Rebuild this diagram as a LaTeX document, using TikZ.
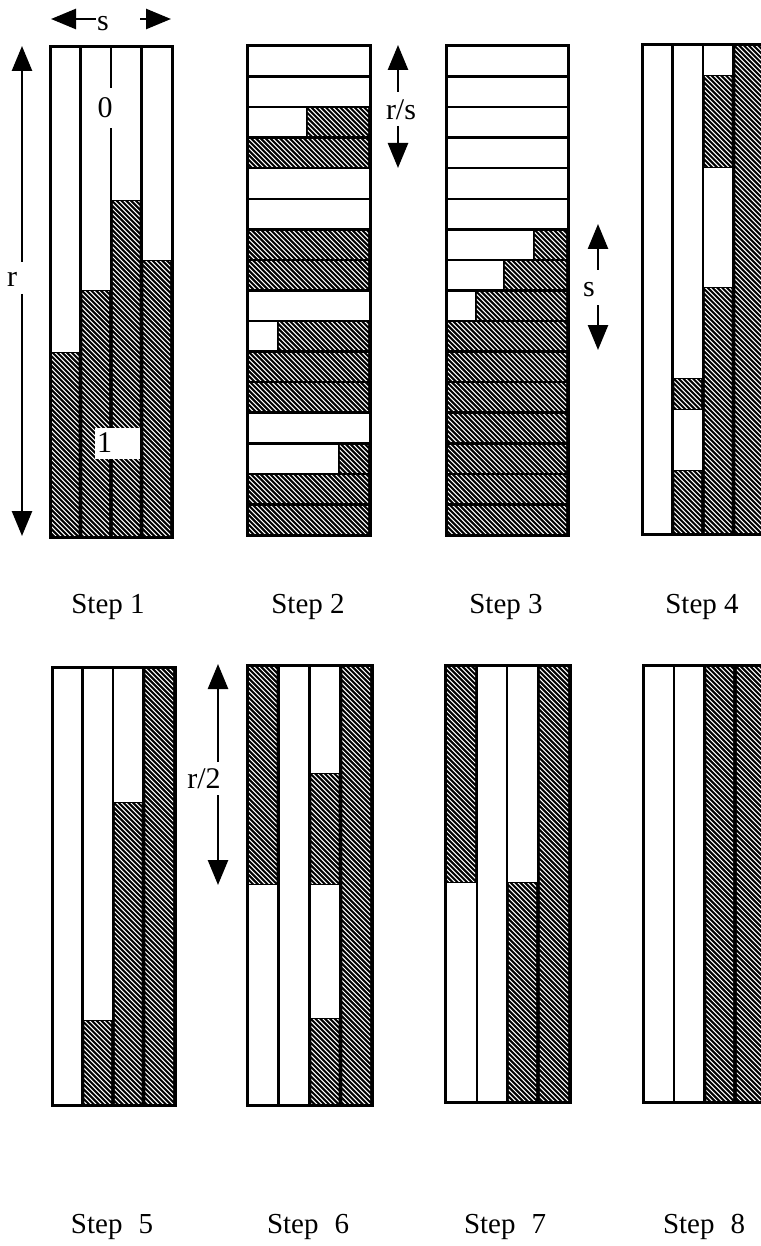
\documentclass[tikz,border=0pt]{standalone}
\usepackage{fontspec}
\setmainfont{Liberation Serif}
\usetikzlibrary{arrows.meta}

\newcommand\hatchcell[4]{%
  \fill[black] ({#1},{#2}) rectangle ({#3},{#4});
  \begin{scope}
    \clip ({(#1)+1.8},{(#2)+1.8}) rectangle ({(#3)-1.8},{(#4)-1.8});
    \pgfmathsetmacro\hcS{floor(((#1)-(#4))/4.8)*4.8}
    \pgfmathsetmacro\hcT{\hcS+4.8}
    \pgfmathsetmacro\hcE{(#3)-(#2)+4.8}
    \foreach \hk in {\hcS,\hcT,...,\hcE}
      \draw[hatchline] ({\hk+(#2)},{#2}) -- ({\hk+(#4)},{#4});
  \end{scope}}

\begin{document}
\begin{tikzpicture}[x=1pt,y=-1pt,
  outer/.style={draw=black,line width=3pt},
  sepline/.style={black,line width=2.4pt},
  hatchline/.style={white,line width=1.05pt},
  arr/.style={line width=2.6pt,-{Triangle[length=25pt,width=20pt]}},
  lbl/.style={font=\fontsize{30}{36}\selectfont, inner sep=0pt},
  steplbl/.style={font=\fontsize{29}{34}\selectfont, anchor=base, inner sep=0pt}]

\useasboundingbox (0,0) rectangle (760,1246);
\fill[white] (0,0) rectangle (760,1246);

% ---------- Step 1 ----------
\hatchcell{50}{352}{80.5}{537}
\hatchcell{80.5}{290}{111}{537}
\hatchcell{111}{200}{141.5}{537}
\hatchcell{141.5}{260}{172}{537}
\foreach \xx in {80.5,111,141.5} \draw[sepline] (\xx,47) -- (\xx,537);
\draw[outer] (50,47) rectangle (172,537);
\node[lbl, fill=white, inner xsep=1pt, minimum height=40pt] (zero) at (105,108) {0};
\node[lbl, fill=white, anchor=west, text width=41pt, inner xsep=2pt, minimum height=31pt] (one) at (95,443) {1};

% s arrow
\node[lbl] (slbl) at (103,24) {s};
\coordinate (sLs) at (96,19);
\coordinate (sL) at (51,19);
\coordinate (sRs) at (140,19);
\coordinate (sR) at (171,19);
\draw[arr] (sLs) -- (sL);
\draw[arr] (sRs) -- (sR);

% r arrow
\node[lbl] (rlbl) at (12,279) {r};
\coordinate (rU) at (22,262);
\coordinate (rT) at (22,46);
\coordinate (rD) at (22,294);
\coordinate (rB) at (22,536);
\draw[arr] (rU) -- (rT);
\draw[arr] (rD) -- (rB);

% ---------- Step 2 ----------
\hatchcell{306}{107.13}{370}{137.69}
\hatchcell{247}{137.69}{370}{168.25}
\hatchcell{247}{229.38}{370}{259.94}
\hatchcell{247}{259.94}{370}{290.5}
\hatchcell{277}{321.06}{370}{351.63}
\hatchcell{247}{351.63}{370}{382.19}
\hatchcell{247}{382.19}{370}{412.75}
\hatchcell{338}{443.31}{370}{473.88}
\hatchcell{247}{473.88}{370}{504.44}
\hatchcell{247}{504.44}{370}{535}
\foreach \k in {1,...,15} \draw[sepline] (247,{46+\k*30.5625}) -- (370,{46+\k*30.5625});
\draw[outer] (247,46) rectangle (370,535);

\node[lbl] (rslbl) at (401,110) {r/s};
\coordinate (rsU) at (398,92);
\coordinate (rsT) at (398,45);
\coordinate (rsD) at (398,126);
\coordinate (rsB) at (398,168);
\draw[arr] (rsU) -- (rsT);
\draw[arr] (rsD) -- (rsB);

% ---------- Step 3 ----------
\hatchcell{533}{229.38}{568}{259.94}
\hatchcell{503}{259.94}{568}{290.5}
\hatchcell{475}{290.5}{568}{321.06}
\foreach \k in {10,...,16} \hatchcell{446}{46+(\k-1)*30.5625}{568}{46+\k*30.5625}
\foreach \k in {1,...,15} \draw[sepline] (446,{46+\k*30.5625}) -- (568,{46+\k*30.5625});
\draw[outer] (446,46) rectangle (568,535);

\node[lbl] (s3lbl) at (589,290) {s};
\coordinate (s3U) at (598,270);
\coordinate (s3T) at (598,224);
\coordinate (s3D) at (598,305);
\coordinate (s3B) at (598,350);
\draw[arr] (s3U) -- (s3T);
\draw[arr] (s3D) -- (s3B);

% ---------- Step 4 ----------
\hatchcell{672.5}{378}{703}{410}
\hatchcell{672.5}{470}{703}{534}
\hatchcell{703}{75}{733.5}{168}
\hatchcell{703}{287}{733.5}{534}
\hatchcell{733.5}{45}{764}{534}
\foreach \xx in {672.5,703,733.5} \draw[sepline] (\xx,45) -- (\xx,534);
\draw[outer] (642,45) rectangle (764,534);

% ---------- Step 5 ----------
\hatchcell{82.5}{1020}{113}{1105}
\hatchcell{113}{802}{143.5}{1105}
\hatchcell{143.5}{667}{175}{1105}
\foreach \xx in {82.5,113,143.5} \draw[sepline] (\xx,667) -- (\xx,1105);
\draw[outer] (52,667) rectangle (175,1105);

\node[lbl] (r2lbl) at (204,779) {r/2};
\coordinate (r2U) at (218,762);
\coordinate (r2T) at (218,664);
\coordinate (r2D) at (218,795);
\coordinate (r2B) at (218,885);
\draw[arr] (r2U) -- (r2T);
\draw[arr] (r2D) -- (r2B);

% ---------- Step 6 ----------
\hatchcell{247}{665}{278.5}{885}
\hatchcell{309.5}{773}{340.5}{885}
\hatchcell{309.5}{1018}{340.5}{1105}
\hatchcell{340.5}{665}{372}{1105}
\foreach \xx in {278.5,309.5,340.5} \draw[sepline] (\xx,665) -- (\xx,1105);
\draw[outer] (247,665) rectangle (372,1105);

% ---------- Step 7 ----------
\hatchcell{445}{665}{477}{883}
\hatchcell{507}{882}{538}{1102}
\hatchcell{538}{665}{570}{1102}
\foreach \xx in {477,507,538} \draw[sepline] (\xx,665) -- (\xx,1102);
\draw[outer] (445,665) rectangle (570,1102);

% ---------- Step 8 ----------
\hatchcell{704.5}{665}{735}{1102}
\hatchcell{735}{665}{766}{1102}
\foreach \xx in {674,704.5,735} \draw[sepline] (\xx,665) -- (\xx,1102);
\draw[outer] (643,665) rectangle (766,1102);

% ---------- labels ----------
\node[steplbl] (st1) at (108,613) {Step 1};
\node[steplbl] (st2) at (308,613) {Step 2};
\node[steplbl] (st3) at (506,613) {Step 3};
\node[steplbl] (st4) at (702,613) {Step 4};
\node[steplbl] (st5) at (112,1233) {Step\hspace{0.55em}5};
\node[steplbl] (st6) at (308,1233) {Step\hspace{0.55em}6};
\node[steplbl] (st7) at (505,1233) {Step\hspace{0.55em}7};
\node[steplbl] (st8) at (704,1233) {Step\hspace{0.55em}8};
\end{tikzpicture}
\end{document}
